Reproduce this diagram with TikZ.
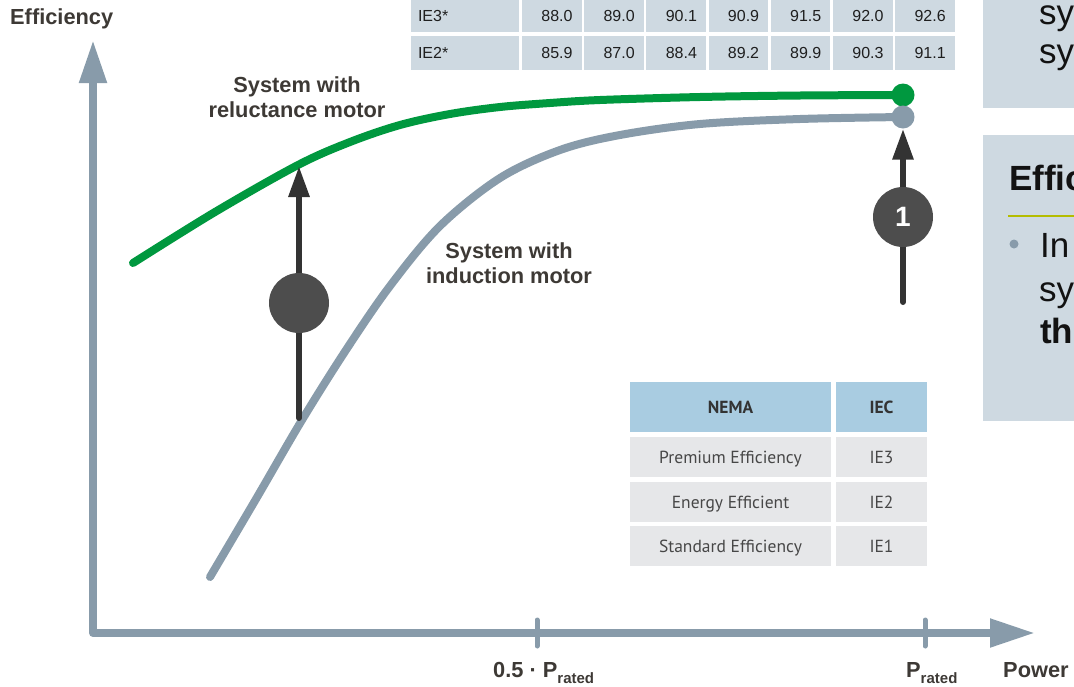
\documentclass[tikz,border=0pt]{standalone}
\usepackage{fontspec}
\setmainfont{Liberation Sans}[Ligatures=NoCommon]
\newfontfamily\tabfont{PT Sans}
\usepackage{tikz}
\usetikzlibrary{arrows.meta, positioning, calc}

\definecolor{efGreen}{HTML}{00983F}
\definecolor{efSlate}{HTML}{889BAA}
\definecolor{efDark}{HTML}{333333}
\definecolor{efDisc}{HTML}{4D4D4D}
\definecolor{efText}{HTML}{3D3935}
\definecolor{efPanel}{HTML}{CED9E1}
\definecolor{efHead}{HTML}{A9CCE1}
\definecolor{efRow}{HTML}{E6E7E9}
\definecolor{efOlive}{HTML}{B4BC00}

\newcommand{\fs}[2]{\fontsize{#1}{#2}\selectfont}
\newcommand{\ratedsub}{\raisebox{-6pt}{\fs{15}{15}rated}}

\tikzset{
  axisline/.style={efSlate, line width=8pt, line join=round},
  tickline/.style={efSlate, line width=5pt, line cap=round},
  curveline/.style={line width=8pt, line cap=round},
  boostarrow/.style={efDark, line width=6pt, line cap=round,
    -{Triangle[length=31pt,width=20pt]}},
  disc/.style={circle, fill=efDisc, minimum size=60pt, inner sep=0pt,
    text=white, font=\bfseries\fs{28}{28}},
  enddot/.style={circle, minimum size=23pt, inner sep=0pt},
  curvelabel/.style={text=efText, font=\bfseries\fs{21.8}{25.5}, align=center},
  axislabel/.style={text=efText, font=\bfseries\fs{21.8}{25}, inner sep=0pt, anchor=base west},
  labcell/.style={fill=efPanel, minimum height=#1, text width=94pt, inner xsep=7pt,
    inner ysep=0pt, align=left, text=black!88, font=\fs{16}{16}},
  valcell/.style={fill=efPanel, minimum height=#1, text width=41.5pt, inner xsep=9pt,
    inner ysep=0pt, align=right, text=black!88, font=\fs{16}{16}},
  headcell/.style={fill=efHead, minimum height=50pt, inner sep=0pt, text height=12.5pt,
    text depth=0pt, text=black!80, font=\tabfont\bfseries\fs{17.5}{17.5}},
  gradecell/.style={fill=efRow, minimum height=40pt, inner sep=0pt, text height=12.5pt,
    text depth=0pt, text=black!72, font=\tabfont\fs{17.5}{17.5}},
  boxtext/.style={anchor=base west, inner sep=0pt, text=black!93, font=\fs{35}{42}}
}

\begin{document}
\begin{tikzpicture}[x=1pt, y=-1pt]
  \useasboundingbox (0,0) rectangle (1074,686);

  % axes
  \coordinate (origin) at (93,633);
  \coordinate (yTip) at (93,40);
  \coordinate (xTip) at (1035,633);
  \draw[axisline, {Triangle[length=43pt,width=26pt]}-{Triangle[length=45pt,width=27pt]}]
    (yTip) -- (origin) -- (xTip);
  \foreach \tx/\nm in {537/half, 925/full} {
    \coordinate (tick-\nm) at (\tx,633);
    \draw[tickline] ($(tick-\nm)+(0,-13)$) -- ($(tick-\nm)+(0,13)$);
  }
  \node[axislabel] (ylabel) at (10,24) {Efficiency};
  \node[axislabel] (halfLabel) at (493,677) {0.5 · P\ratedsub};
  \node[axislabel] (fullLabel) at (906,677) {P\ratedsub};
  \node[axislabel] (xlabel) at (1003,677) {Power};

  % efficiency classes (top table)
  \foreach \lab/\yc/\rh/\vals in {IE3*/16/32pt/{88.0,89.0,90.1,90.9,91.5,92.0,92.6},
                                  IE2*/53/34pt/{85.9,87.0,88.4,89.2,89.9,90.3,91.1}} {
    \node[labcell=\rh] (row-\yc) at (465,\yc) {\lab};
    \foreach \v [count=\c] in \vals
      \node[valcell=\rh] (cell-\yc-\c) at ({522+62.2*(\c-1)+29.75},\yc) {\v};
  }

  % NEMA / IEC table
  \node[headcell, minimum width=201pt] (nema) at (730.5,407) {NEMA};
  \node[headcell, minimum width=91pt] (iec) at (881.5,407) {IEC};
  \foreach \nema/\iec/\yc in {Premium Efficiency/IE3/457,
                              Energy Efficient/IE2/502,
                              Standard Efficiency/IE1/546} {
    \node[gradecell, minimum width=201pt] (nema-\iec) at (730.5,\yc) {\nema};
    \node[gradecell, minimum width=91pt] (iec-\iec) at (881.5,\yc) {\iec};
  }

  % side panels (cut at the right edge)
  \begin{scope}
    \clip (983,0) rectangle (1074,686);
    \fill[efPanel] (983,0) rectangle (1074,108);
    \fill[efPanel] (983,135) rectangle (1074,421);
    \node[boxtext] (topA) at (1039,24) {sy};
    \node[boxtext] (topB) at (1039,63) {sy};
    \node[boxtext, font=\bfseries\fs{35}{42}] (effHead) at (1009,190) {Effic};
    \draw[efOlive, line width=2pt] (1008,216) -- (1074,216);
    \fill[efSlate] (1014,244) circle (4.5pt);
    \node[boxtext] (bulA) at (1040,257) {In};
    \node[boxtext] (bulB) at (1039,301) {sy};
    \node[boxtext, font=\bfseries\fs{35}{42}] (bulC) at (1040,343) {th};
  \end{scope}

  % curves
  \draw[curveline, efSlate] plot[smooth, tension=0.55] coordinates {
    (210,577) (256,499) (302,420) (346,350) (390,286) (440,226) (500,178)
    (560,150) (620,135) (700,124) (800,119) (903,117)};
  \draw[curveline, efGreen] plot[smooth, tension=0.55] coordinates {
    (133,263) (215,212) (298,165) (350,142) (400,125) (450,114) (500,107)
    (550,103) (600,100) (700,97) (800,95.5) (903,95)};
  \node[enddot, fill=efGreen] (rEnd) at (903,95) {};
  \node[enddot, fill=efSlate] (iEnd) at (903,117) {};

  \node[curvelabel] (relLabel) at (297,97) {System with\\reluctance motor};
  \node[curvelabel] (indLabel) at (509,263) {System with\\induction motor};

  % improvement arrows
  \coordinate (lowA) at (299,418);
  \coordinate (tipA) at (299,166);
  \coordinate (lowB) at (903,302);
  \draw[boostarrow] (lowA) -- (tipA);
  \draw[boostarrow] (lowB) -- (iEnd.south);
  \node[disc] (discA) at (299,303) {};
  \node[disc] (discB) at (903,217) {1};
\end{tikzpicture}
\end{document}
